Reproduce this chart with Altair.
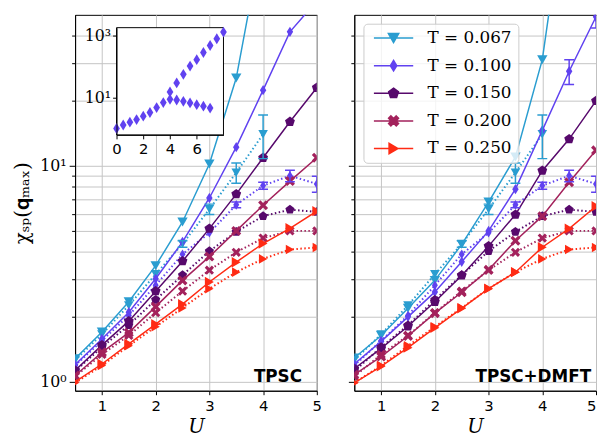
import altair as alt
import pandas as pd

# ---------------- data ----------------
U = [0.5, 1.0, 1.5, 2.0, 2.5, 3.0, 3.5, 4.0, 4.5, 5.0]
T_LABELS = ["T = 0.067", "T = 0.100", "T = 0.150", "T = 0.200", "T = 0.250"]
COLORS = ["#2a9dd0", "#6042f0", "#57096c", "#a3225c", "#ff2b14"]

# TPSC (left panel, solid lines)
tpsc_067 = [1.28, 1.70, 2.35, 3.45, 5.5, 10.2, 25.5, 118, None, None]
tpsc_100 = [1.20, 1.58, 2.10, 3.00, 4.45, 7.1, 12.2, 22.4, 41.7, 58]
tpsc_150 = [1.13, 1.48, 1.91, 2.63, 3.62, 5.12, 7.4, 10.9, 16.0, 23.0]
tpsc_200 = [1.07, 1.37, 1.69, 2.23, 2.95, 3.80, 5.0, 6.57, 8.5, 10.9]
tpsc_250 = [1.00, 1.21, 1.50, 1.85, 2.29, 2.90, 3.58, 4.37, 5.14, 6.17]

# TPSC+DMFT (right panel, solid lines)
dmft_067 = [1.29, 1.64, 2.19, 2.95, 4.33, 6.8, 11.0, 31.0, 230, None]
dmft_100 = [1.21, 1.54, 2.00, 2.61, 3.60, 5.0, 7.8, 14.6, 27.4, 49.0]
dmft_150 = [1.15, 1.43, 1.81, 2.35, 3.11, 4.25, 5.95, 9.5, 13.3, 20.0]
dmft_200 = [1.08, 1.31, 1.63, 2.08, 2.60, 3.30, 4.5, 5.85, 8.4, 11.8]
dmft_250 = [0.99, 1.18, 1.44, 1.78, 2.19, 2.70, 3.22, 4.2, 5.12, 6.5]

# benchmark (dotted lines, both panels)
ref_067 = [1.26, 1.66, 2.26, 3.15, 4.35, 6.3, 9.3, 14.0, None, None]
ref_100 = [1.19, 1.55, 2.03, 2.80, 3.90, 4.9, 6.6, 8.1, 9.0, 8.25]
ref_150 = [1.12, 1.45, 1.83, 2.40, 3.12, 4.03, 4.95, 5.85, 6.27, 6.12]
ref_200 = [1.06, 1.34, 1.64, 2.09, 2.63, 3.29, 3.98, 4.63, 5.0, 5.0]
ref_250 = [0.99, 1.19, 1.47, 1.80, 2.20, 2.70, 3.22, 3.71, 4.1, 4.19]

# error bars
ref_err_067 = [None, None, None, None, 0.15, 0.35, 1.0, 3.2, None, None]
ref_err_100 = [None, None, None, None, None, None, 0.2, 0.3, 0.55, 0.7]
dmft_err_100 = [None, None, None, None, None, None, None, None, 3.6, 5.5]

# inset (T = 0.100)
INSET_U_UP = [0.0, 0.5, 1.0, 1.5, 2.0, 2.5, 3.0, 3.5, 4.0, 4.5, 5.0, 5.5, 6.0, 6.5, 7.0, 7.5, 8.0]
INSET_CHI_UP = [1.0, 1.3, 1.6, 1.95, 2.5, 3.3, 4.75, 6.9, 15.3, 30, 57, 105, 170, 290, 490, 810, 1330]
INSET_U_DOWN = [4.0, 4.5, 5.0, 5.5, 6.0, 6.5, 7.0]
INSET_CHI_DOWN = [8.8, 8.4, 7.6, 6.75, 5.9, 5.3, 4.6]

TPSC = [tpsc_067, tpsc_100, tpsc_150, tpsc_200, tpsc_250]
DMFT = [dmft_067, dmft_100, dmft_150, dmft_200, dmft_250]
REF = [ref_067, ref_100, ref_150, ref_200, ref_250]

# ---------------- style ----------------
W, H = 245, 381
XDOM = [0.5, 5.0]
YDOM = [0.91, 50.0]
YTICKS = [1, 2, 3, 4, 5, 6, 7, 8, 9, 10, 20, 30, 40]
SERIF = "DejaVu Serif"
SANS = "DejaVu Sans"
GRID = "#c4c4c4"


def poly(pts):
    return "M" + "L".join(f"{x:.3f},{y:.3f}" for x, y in pts) + "Z"


TRI_DOWN = poly([(0, 0.866), (-1, -0.866), (1, -0.866)])
DIAMOND = poly([(0, -1), (0.62, 0), (0, 1), (-0.62, 0)])
PENTAGON = poly([(0, -1), (0.951, -0.309), (0.588, 0.809), (-0.588, 0.809), (-0.951, -0.309)])
_w = 0.3
_plus = [(-_w, -1), (_w, -1), (_w, -_w), (1, -_w), (1, _w), (_w, _w), (_w, 1), (-_w, 1),
         (-_w, _w), (-1, _w), (-1, -_w), (-_w, -_w)]
XSHAPE = poly([((x - y) / 1.4142 * 1.05, (x + y) / 1.4142 * 1.05) for x, y in _plus])
TRI_RIGHT = poly([(0.866, 0), (-0.866, -1), (-0.866, 1)])
SHAPES = [TRI_DOWN, DIAMOND, PENTAGON, XSHAPE, TRI_RIGHT]
LEG_SHAPES = [s + "M-3.8,0L3.8,0" for s in SHAPES]

xs = alt.Scale(domain=XDOM, nice=False, zero=False)
ys = alt.Scale(type="log", domain=YDOM, nice=False)
MAJOR = "datum.value == 1 || datum.value == 10"


def x_axis(flush):
    return alt.Axis(values=[1, 2, 3, 4, 5], format="d", title="U", grid=True, gridColor=GRID,
                    gridWidth=1, tickSize=4, tickColor="black", domainColor="black",
                    labelFont=SANS, labelFontSize=15, labelColor="black", labelPadding=4,
                    labelFlush=flush, titleFont=SERIF, titleFontSize=20, titleFontStyle="italic",
                    titleFontWeight="normal", titleColor="black", titlePadding=3)


def y_axis(show):
    kw = dict(values=YTICKS, grid=True, gridColor=GRID, gridWidth=1, tickColor="black",
              domainColor="black",
              tickSize={"condition": {"test": MAJOR, "value": 6}, "value": 3.5},
              labelOverlap=False, labelFlush=False)
    if show:
        kw.update(labelExpr="datum.value == 1 ? '10⁰' : (datum.value == 10 ? '10¹' : '')",
                  labelFont=SERIF, labelFontSize=16, labelColor="black", labelPadding=3,
                  title="χₛₚ(𝐪ₘₐₓ)", titleFont=SERIF, titleFontSize=20,
                  titleFontWeight="normal", titleColor="black", titlePadding=7)
    else:
        kw.update(labels=False, title=None)
    return alt.Axis(**kw)


def series_df(vals):
    return pd.DataFrame({"U": [u for u, v in zip(U, vals) if v is not None],
                         "chi": [v for v in vals if v is not None]})


def err_df(vals, errs):
    rows = [(u, v - e, v + e) for u, v, e in zip(U, vals, errs) if e is not None and v is not None]
    return pd.DataFrame(rows, columns=["U", "lo", "hi"])


def panel_layers(solid, errs, show_y):
    xa, ya = x_axis(not show_y), y_axis(show_y)
    X = alt.X("U:Q", scale=xs, axis=xa)
    layers = []
    for i in range(5):
        c = COLORS[i]
        rdf = series_df(REF[i])
        sdf = series_df(solid[i])
        Y = alt.Y("chi:Q", scale=ys, axis=ya)
        layers.append(alt.Chart(rdf).mark_line(color=c, strokeWidth=2, strokeDash=[1.5, 2.5],
                                               clip=True).encode(x=X, y=Y))
        layers.append(alt.Chart(rdf).mark_point(shape=SHAPES[i], filled=True, size=95, color=c,
                                                opacity=1, clip=True).encode(x=X, y=Y))
        layers.append(alt.Chart(sdf).mark_line(color=c, strokeWidth=1.5, clip=True).encode(x=X, y=Y))
        layers.append(alt.Chart(sdf).mark_point(shape=SHAPES[i], filled=True, size=110, color=c,
                                                opacity=1, clip=True).encode(x=X, y=Y))
    for idx, vals, e in errs:
        c = COLORS[idx]
        edf = err_df(vals, e)
        layers.append(alt.Chart(edf).mark_rule(color=c, strokeWidth=1.5, clip=True).encode(
            x=X, y=alt.Y("lo:Q", scale=ys, axis=ya), y2="hi:Q"))
        for f in ["lo", "hi"]:
            layers.append(alt.Chart(edf).mark_tick(orient="horizontal", size=10, thickness=1.5,
                                                   color=c, opacity=1, clip=True).encode(
                x=X, y=alt.Y(f + ":Q", scale=ys, axis=ya)))
    return layers


def label_layer(text, xpos):
    return alt.Chart(pd.DataFrame({"t": [text]})).mark_text(
        align="right", baseline="alphabetic", font=SANS, fontWeight="bold", fontSize=17,
        color="black").encode(text="t:N", x=alt.value(xpos), y=alt.value(372))


# ---------------- left panel ----------------
left_main = alt.layer(
    *panel_layers(TPSC, [(0, ref_067, ref_err_067), (1, ref_100, ref_err_100)], True),
    label_layer("TPSC", 230),
)

IXDOM = [0.0, 8.0]
IYDOM = [0.62, 1850.0]
ixs = alt.Scale(domain=IXDOM, range=[42, 150.4], nice=False, zero=False)
iys = alt.Scale(type="log", domain=IYDOM, range=[121.7, 13], nice=False)
ixa = alt.Axis(values=[0, 2, 4, 6], orient="bottom", offset=-259.3, grid=False, tickSize=4,
               tickColor="black", domainColor="black", labelFont=SANS, labelFontSize=15,
               labelColor="black", labelPadding=3, labelFlush=False, title=None, zindex=1)
iya = alt.Axis(values=[10, 1000], orient="left", offset=-42, grid=False, tickSize=4,
               tickColor="black", domainColor="black", labelFont=SERIF, labelFontSize=16,
               labelColor="black", labelPadding=2, labelFlush=False, title=None, zindex=1,
               labelExpr="datum.value == 10 ? '10¹' : '10³'")

frame_df = pd.DataFrame({"x0": [IXDOM[0]], "x1": [IXDOM[1]], "y0": [IYDOM[0]], "y1": [IYDOM[1]]})
inset_frame = alt.Chart(frame_df).mark_rect(fill="white", stroke="black", strokeWidth=1).encode(
    x=alt.X("x0:Q", scale=ixs, axis=ixa), x2="x1:Q",
    y=alt.Y("y0:Q", scale=iys, axis=iya), y2="y1:Q")
up_df = pd.DataFrame({"u": INSET_U_UP, "v": INSET_CHI_UP})
down_df = pd.DataFrame({"u": INSET_U_DOWN, "v": INSET_CHI_DOWN})
inset_up = alt.Chart(up_df).mark_point(shape=DIAMOND, filled=True, size=120, color=COLORS[1],
                                       opacity=1).encode(
    x=alt.X("u:Q", scale=ixs, axis=ixa), y=alt.Y("v:Q", scale=iys, axis=iya))
inset_down = alt.Chart(down_df).mark_point(shape=DIAMOND, filled=True, size=120, color=COLORS[1],
                                           opacity=1).encode(
    x=alt.X("u:Q", scale=ixs, axis=ixa), y=alt.Y("v:Q", scale=iys, axis=iya))
inset = alt.layer(inset_frame, inset_up, inset_down)

left = alt.layer(left_main, inset).resolve_scale(x="independent", y="independent").resolve_axis(
    x="independent", y="independent").properties(width=W, height=H)

# ---------------- right panel ----------------
leg = alt.Legend(title=None, orient="none", legendX=9.3, legendY=9, labelFont=SERIF,
                 labelFontSize=17, labelColor="black", symbolSize=110, symbolStrokeWidth=1.5,
                 symbolOffset=16, labelOffset=26, rowPadding=10, padding=6,
                 fillColor="rgba(255,255,255,0.8)", strokeColor="#cccccc", cornerRadius=4,
                 labelLimit=300)
leg_df = pd.DataFrame({"lab": T_LABELS})
legend_layer = alt.Chart(leg_df).transform_filter("false").mark_point(
    filled=True, strokeWidth=1.5, opacity=1).encode(
    fill=alt.Fill("lab:N", scale=alt.Scale(domain=T_LABELS, range=COLORS), legend=leg),
    stroke=alt.Stroke("lab:N", scale=alt.Scale(domain=T_LABELS, range=COLORS), legend=leg),
    shape=alt.Shape("lab:N", scale=alt.Scale(domain=T_LABELS, range=LEG_SHAPES), legend=leg),
)

right = alt.layer(
    *panel_layers(DMFT, [(0, ref_067, ref_err_067), (1, ref_100, ref_err_100),
                         (1, dmft_100, dmft_err_100)], False),
    label_layer("TPSC+DMFT", 240),
    legend_layer,
).properties(width=W, height=H)

chart = alt.hconcat(left, right, spacing=25).resolve_scale(
    fill="independent", stroke="independent", shape="independent").resolve_legend(
    fill="independent", stroke="independent", shape="independent").configure_view(
    stroke="black", strokeWidth=1).properties(
    padding={"left": 4, "top": 3, "right": 0, "bottom": 0}, background="white")

chart.save("out.html", embed_options={"renderer": "svg", "actions": False})
